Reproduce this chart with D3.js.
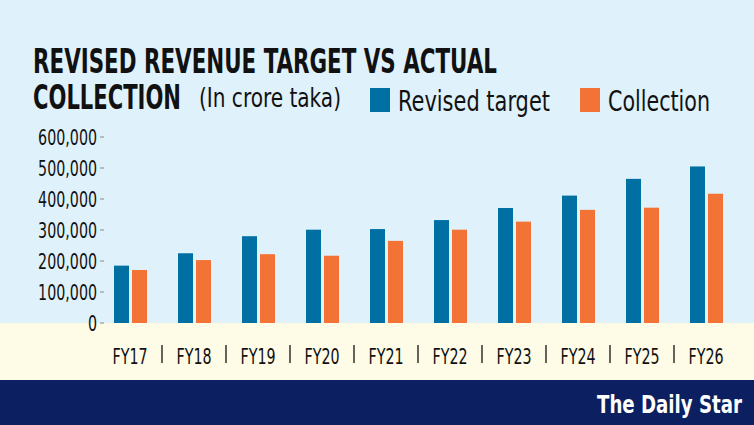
<!DOCTYPE html>
<html><head><meta charset="utf-8">
<script src="https://cdn.jsdelivr.net/npm/d3@7"></script>
<style>body{margin:0}svg{display:block}text{font-family:"DejaVu Sans Condensed","Liberation Sans Narrow",sans-serif}</style>
</head><body><svg id="c" width="754" height="425"></svg>
<script>
var years = ["FY17","FY18","FY19","FY20","FY21","FY22","FY23","FY24","FY25","FY26"];
var revisedTarget = [185000,225000,280000,301000,303000,332000,371000,411000,465000,505000];
var collection = [171000,203000,222000,217000,265000,301000,327000,365000,372000,417000];
var yTicks = [0,100000,200000,300000,400000,500000,600000];

var svg = d3.select("#c");
svg.append("rect").attr("width",754).attr("height",323).attr("fill","#dff2fc");
svg.append("rect").attr("y",323).attr("width",754).attr("height",57).attr("fill","#fefbe6");
svg.append("rect").attr("y",380).attr("width",754).attr("height",45).attr("fill","#0c1f60");

// squeezed text: the reference uses a narrow condensed face
function txt(x, y, s, size, w, weight, anchor) {
  var t = svg.append("text").attr("x",x).attr("y",y).attr("font-size",size)
    .attr("font-weight",weight||"normal").attr("fill","#111").text(s);
  if (anchor) t.attr("text-anchor",anchor);
  if (w) t.attr("textLength",w).attr("lengthAdjust","spacingAndGlyphs");
  return t;
}
txt(33,73,"REVISED REVENUE TARGET VS ACTUAL",34,464,"bold");
txt(33,109,"COLLECTION",34,148,"bold");
txt(199,107,"(In crore taka)",26,142);

var legend = [["Revised target","#0070a3",370,152],["Collection","#f37336",580,102]];
legend.forEach(function(l){
  svg.append("rect").attr("x",l[2]).attr("y",88).attr("width",20).attr("height",24).attr("fill",l[1]);
  txt(l[2]+28,111,l[0],28,l[3]);
});

var y = d3.scaleLinear().domain([0,600000]).range([323,137]);
var x = d3.scaleBand().domain(years).range([98,738]).paddingInner(0);

svg.selectAll(".yt").data(yTicks).enter().append("text")
  .attr("transform",function(d){return "translate(97,"+(y(d)+8)+") scale(0.72,1)";})
  .attr("text-anchor","end").attr("font-size",22).attr("fill","#111")
  .text(function(d){return d3.format(",")(d);});
svg.selectAll(".ym").data(yTicks).enter().append("line")
  .attr("x1",100).attr("x2",104).attr("y1",function(d){return y(d);}).attr("y2",function(d){return y(d);})
  .attr("stroke","#888");

var bw = 15;
svg.selectAll(".b1").data(years).enter().append("rect")
  .attr("x",function(d){return x(d)+x.bandwidth()/2-bw-1;}).attr("width",bw)
  .attr("y",function(d,i){return y(revisedTarget[i]);})
  .attr("height",function(d,i){return y(0)-y(revisedTarget[i]);}).attr("fill","#0070a3");
svg.selectAll(".b2").data(years).enter().append("rect")
  .attr("x",function(d){return x(d)+x.bandwidth()/2+2;}).attr("width",bw)
  .attr("y",function(d,i){return y(collection[i]);})
  .attr("height",function(d,i){return y(0)-y(collection[i]);}).attr("fill","#f37336");

svg.selectAll(".xl").data(years).enter().append("text")
  .attr("transform",function(d){return "translate("+(x(d)+x.bandwidth()/2)+",364) scale(0.72,1)";})
  .attr("text-anchor","middle").attr("font-size",22).attr("fill","#111").text(function(d){return d;});
svg.selectAll(".xs").data(years.slice(1)).enter().append("line")
  .attr("x1",function(d){return x(d);}).attr("x2",function(d){return x(d);})
  .attr("y1",345).attr("y2",363).attr("stroke","#111").attr("stroke-width",1.3);

svg.append("text").attr("x",742).attr("y",413).attr("text-anchor","end").attr("font-size",24)
  .attr("font-family","DejaVu Serif,serif").attr("font-weight","bold")
  .attr("textLength",145).attr("lengthAdjust","spacingAndGlyphs")
  .attr("fill","#fff").text("The Daily Star");
</script></body></html>
